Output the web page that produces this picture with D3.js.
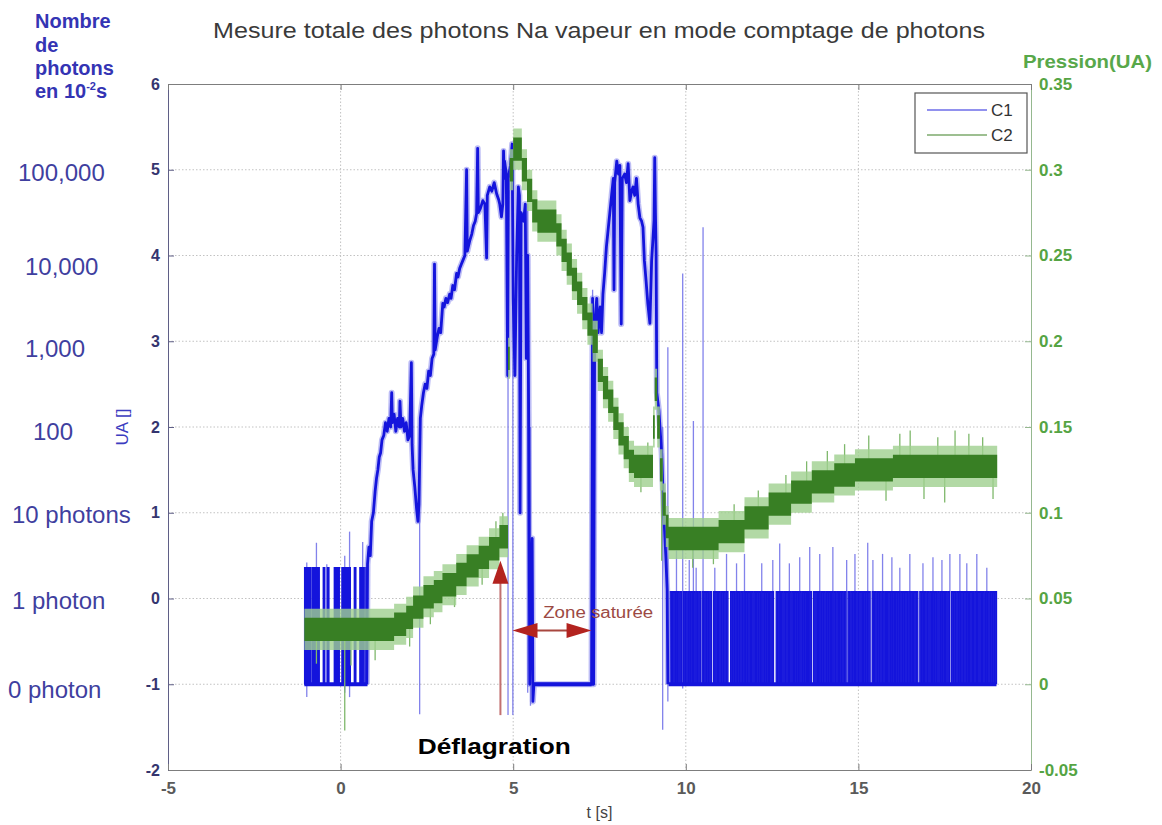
<!DOCTYPE html>
<html><head><meta charset="utf-8">
<script src="https://cdn.jsdelivr.net/npm/d3@7"></script>
<style>
body{margin:0;background:#fff}
svg{display:block}
text{font-family:"Liberation Sans",Arial,Helvetica,sans-serif}
</style>
</head><body>
<svg id="c" width="1162" height="825"></svg>
<script>
// ---------------- DATA ----------------
const chartTitle = "Mesure totale des photons Na vapeur en mode comptage de photons";
const tTicks = [-5, 0, 5, 10, 15, 20];
const uaTicks = [-2, -1, 0, 1, 2, 3, 4, 5, 6];
const pTicks = [-0.05, 0, 0.05, 0.1, 0.15, 0.2, 0.25, 0.3, 0.35];
const gridT = [0, 5, 10, 15];
const gridUA = [-1, 0, 1, 2, 3, 4, 5];
const photonLabels = ["100,000", "10,000", "1,000", "100", "10 photons", "1 photon", "0 photon"];
const photonLevels = [5, 4, 3, 2, 1, 0, -1];
const seriesNames = ["C1", "C2"];

// C1 : photon counting parts (pulse start times, s) and levels
const c1PreHigh = 0.36;
const c1PostHigh = 0.08;
const c1PulseWidth = 0.04;
const c1PrePulses = [-1.04, -0.99, -0.95, -0.91, -0.82, -0.77, -0.72, -0.66, -0.5, -0.38, -0.18, -0.13, -0.08,
  0.04, 0.09, 0.14, 0.19, 0.24, 0.4, 0.56, 0.61, 0.66, 0.71];
const c1PostPulses = [9.55, 9.62, 9.7, 9.76, 9.84, 9.93, 10.0, 10.08, 10.15, 10.22, 10.3, 10.38, 10.47, 10.55, 10.62,
  10.7, 10.8, 10.88, 10.95, 11.03, 11.1, 11.18, 11.3, 11.37, 11.45, 11.52, 11.6, 11.68, 11.75, 11.83, 11.9, 11.98,
  12.05, 12.12, 12.2, 12.28, 12.35, 12.42, 12.5, 12.62, 12.7, 12.77, 12.85, 12.93, 13.0, 13.08, 13.15, 13.22, 13.3,
  13.38, 13.45, 13.52, 13.6, 13.7, 13.78, 13.85, 13.93, 14.0, 14.08, 14.15, 14.22, 14.3, 14.38, 14.45, 14.52, 14.6,
  14.7, 14.78, 14.85, 14.92, 15.0, 15.08, 15.15, 15.22, 15.3, 15.4, 15.47, 15.55, 15.62, 15.7, 15.78, 15.85, 15.93,
  16.0, 16.08, 16.15, 16.23, 16.3, 16.38, 16.46, 16.53, 16.6, 16.68, 16.78, 16.85, 16.92, 17.0, 17.08, 17.15, 17.22,
  17.3, 17.38, 17.45, 17.52, 17.6, 17.7, 17.77, 17.85, 17.92, 18.0, 18.08, 18.15, 18.22, 18.3, 18.38, 18.45, 18.53,
  18.6, 18.68, 18.75, 18.83, 18.9, 18.96];
// C1 : analog (saturating) parts [t, UA]
const c1Rise = [[0.76,-1],[0.78,0.4],[0.82,0.6],[0.86,0.5],[0.9,0.9],[0.95,1.0],[1.0,1.25],[1.04,1.4],[1.08,1.5],
  [1.12,1.65],[1.16,1.7],[1.2,1.85],[1.25,1.9],[1.3,2.05],[1.35,1.95],[1.4,2.1],[1.45,2.0],[1.48,2.4],[1.5,2.05],
  [1.55,2.15],[1.6,1.95],[1.65,2.1],[1.7,2.0],[1.72,2.3],[1.75,2.0],[1.8,2.1],[1.85,1.95],[1.9,2.05],[1.95,1.85],
  [2.0,1.9],[2.05,2.75],[2.07,1.8],[2.1,1.5],[2.15,1.3],[2.2,1.05],[2.24,0.9],[2.27,1.1],[2.31,2.1],[2.35,2.25],
  [2.4,2.4],[2.45,2.5],[2.5,2.45],[2.55,2.65],[2.6,2.6],[2.65,2.8],[2.7,2.85],[2.72,3.9],[2.74,2.9],[2.8,3.05],
  [2.85,3.15],[2.9,3.1],[2.96,3.44],[3.0,3.4],[3.05,3.5],[3.1,3.45],[3.16,3.55],[3.2,3.5],[3.25,3.65],[3.3,3.6],
  [3.36,3.79],[3.4,3.75],[3.45,3.85],[3.5,3.9],[3.54,3.94],[3.6,4.0],[3.65,5.0],[3.67,4.05],[3.74,4.17],[3.8,4.25],
  [3.85,4.35],[3.9,4.4],[3.94,4.49],[3.97,5.25],[3.99,4.5],[4.05,4.55],[4.12,4.64],[4.18,4.6],[4.23,3.97],[4.25,4.7],
  [4.32,4.8],[4.38,4.75],[4.45,4.85],[4.52,4.72],[4.58,4.65],[4.61,4.6],[4.66,4.45],[4.7,4.6],[4.72,5.22],[4.74,4.9],
  [4.75,5.1],[4.8,4.95],[4.84,2.6],[4.86,4.9],[4.92,5.05],[4.97,5.3],[5.0,3.5],[5.05,2.6],[5.1,4.0],[5.15,4.8],
  [5.18,4.7],[5.2,1.0],[5.23,4.5],[5.3,4.4],[5.35,4.6],[5.38,2.8],[5.42,4.0],[5.45,2.0],[5.48,-1.0],[5.52,0.4],
  [5.55,0.7],[5.57,-1.2],[5.6,-1]];
const c1Hump = [[7.27,-1],[7.3,3.5],[7.33,-1],[7.36,3.2],[7.42,3.5],[7.46,3.1],[7.52,3.4],[7.56,3.1],[7.6,3.55],
  [7.65,3.8],[7.7,4.1],[7.75,4.3],[7.8,4.5],[7.85,4.7],[7.9,4.9],[7.92,3.6],[7.94,4.85],[8.0,5.1],[8.05,4.95],
  [8.09,5.05],[8.13,3.2],[8.16,4.9],[8.23,4.95],[8.28,4.85],[8.33,5.07],[8.38,4.64],[8.43,4.75],[8.47,4.8],
  [8.52,4.7],[8.57,4.9],[8.62,4.6],[8.67,4.44],[8.72,4.4],[8.76,4.33],[8.8,3.94],[8.85,3.7],[8.9,3.44],[8.96,3.21],
  [9.01,3.94],[9.05,4.2],[9.08,4.41],[9.1,5.14],[9.12,4.5],[9.14,4.02],[9.16,2.4],[9.22,2.2],[9.3,1.7],[9.36,1.0],
  [9.42,0.5],[9.46,0.1],[9.48,-1.0]];
// C1 : noise floor segments at the "0 photon" level [tStart, tEnd]
const c1Floors = [[-1.05, 0.78], [5.58, 7.27], [9.5, 19.0]];
// C1 : isolated spikes [t, bottom, top]
const c1Spikes = [[-0.98,-1.15,0.42],[-0.7,-1,0.65],[-0.4,-1,0.4],[0.12,-1.1,0.5],[0.26,-1.15,0.78],[0.64,-1,0.66],
  [2.29,-1.35,2.1],[4.85,-1.36,5.0],[4.99,-1.36,5.3],[5.42,-1.1,4.6],[5.5,-1.25,2.0],[7.3,-1.0,3.6],[9.33,-1.53,2.0],
  [9.48,-1.2,2.93],[9.91,-1.05,3.79],[10.22,-1.0,2.07],[10.5,-1.0,4.33],
  [9.73,-1,0.56],[10.1,-1,0.45],[10.3,-1,0.36],[10.84,-1,0.36],[11.18,-1,0.52],[11.47,-1,0.41],[11.7,-1,0.52],
  [12.2,-1,0.41],[12.52,-1,0.45],[12.72,-1,0.64],[13.0,-1,0.41],[13.3,-1,0.48],[13.59,-1,0.6],[13.88,-1,0.52],
  [14.26,-1,0.6],[14.66,-1,0.45],[14.9,-1,0.52],[15.27,-1,0.65],[15.42,-1,0.45],[15.7,-1,0.52],[15.97,-1,0.48],
  [16.2,-1,0.36],[16.49,-1,0.52],[16.87,-1,0.41],[17.16,-1,0.48],[17.42,-1,0.45],[17.65,-1,0.52],[17.94,-1,0.52],
  [18.14,-1,0.41],[18.43,-1,0.52],[18.72,-1,0.36]];

// C2 : pressure, stepped [t, Pression(UA)]
const c2 = [[-1.05,0.032],[1.55,0.035],[1.9,0.039],[2.1,0.045],[2.4,0.051],[2.7,0.054],[2.95,0.058],[3.35,0.064],
  [3.65,0.069],[4.0,0.074],[4.3,0.079],[4.6,0.086],[4.85,0.19],[4.9,0.3],[5.0,0.312],[5.25,0.3],[5.4,0.288],
  [5.55,0.276],[5.7,0.27],[6.25,0.262],[6.4,0.253],[6.55,0.245],[6.7,0.236],[6.85,0.228],[7.0,0.219],[7.15,0.21],
  [7.3,0.2],[7.45,0.183],[7.6,0.173],[7.75,0.165],[7.9,0.155],[8.05,0.146],[8.2,0.138],[8.35,0.13],[8.5,0.127],
  [9.05,0.15],[9.1,0.172],[9.17,0.15],[9.25,0.125],[9.33,0.105],[9.42,0.092],[9.5,0.085],[10.95,0.089],[11.7,0.097],
  [12.4,0.105],[13.05,0.112],[13.65,0.118],[14.3,0.122],[14.9,0.125],[16.0,0.127],[19.02,0.127]];
const c2NoiseCore = 0.0068;
const c2NoiseFull = 0.012;
const c2Spikes = [[0.12,-0.027],[-0.7,0.012],[0.3,0.011],[1.0,0.014],[2.0,0.022],[2.6,0.035],[3.3,0.045],[4.1,0.058],
  [4.5,0.095],[4.7,0.1],[8.7,0.112],[8.9,0.141],[9.3,0.072],[10.2,0.068],[10.8,0.07],[11.4,0.105],[12.1,0.113],
  [12.9,0.122],[13.5,0.13],[14.1,0.136],[14.6,0.14],[15.3,0.145],[15.8,0.107],[16.2,0.146],[16.5,0.148],[16.9,0.108],
  [17.3,0.144],[17.5,0.106],[17.8,0.148],[18.2,0.146],[18.6,0.144],[18.9,0.108]];

// Annotations (data coordinates)
const deflagration = {label: "Déflagration", t: 4.63, from: -1.36, to: 0.44, textT: 4.45, textV: -1.81};
const zoneSaturee = {label: "Zone saturée", t0: 4.98, t1: 7.27, v: -0.373, textT: 5.87, textV: -0.233};

// ---------------- DRAWING ----------------
const svg = d3.select("#c");
const L = 168, R = 1031, T = 84, B = 770;
const x = d3.scaleLinear().domain([-5, 20]).range([L, R]);
const yL = d3.scaleLinear().domain([-2, 6]).range([B, T]);
const yR = d3.scaleLinear().domain([-0.05, 0.35]).range([B, T]);
const fmt = d => String(+d.toFixed(2));

const blue = "#1414dc", blueLight = "#6d6de8", green = "#387f24", greenLight = "#9fcf8f";

svg.append("rect").attr("width", 1162).attr("height", 825).attr("fill", "#fff");

// grid
const grid = svg.append("g");
grid.selectAll(".gv").data(gridT).join("line")
  .attr("x1", d => x(d)).attr("x2", d => x(d)).attr("y1", T).attr("y2", B)
  .attr("stroke", "#c2c2c2").attr("stroke-width", 1).attr("stroke-dasharray", "1.5,2");
grid.selectAll(".gh").data(gridUA).join("line")
  .attr("x1", L).attr("x2", R).attr("y1", d => yL(d)).attr("y2", d => yL(d))
  .attr("stroke", "#c2c2c2").attr("stroke-width", 1).attr("stroke-dasharray", "1.5,2");

svg.append("clipPath").attr("id", "clip").append("rect")
  .attr("x", L).attr("y", T).attr("width", R - L).attr("height", B - T);
const plot = svg.append("g").attr("clip-path", "url(#clip)");

const lineL = d3.line().x(d => x(d[0])).y(d => yL(d[1]));

// C1 light spikes
plot.append("g").selectAll("line").data(c1Spikes).join("line")
  .attr("x1", d => x(d[0])).attr("x2", d => x(d[0]))
  .attr("y1", d => yL(d[1])).attr("y2", d => yL(d[2]))
  .attr("stroke", blueLight).attr("stroke-width", 1.3).attr("opacity", 0.85);

// C1 counting pulses
function pulses(times, high) {
  const pts = [[times[0] - 0.01, -1]];
  times.forEach(t => pts.push([t, -1], [t, high], [t + c1PulseWidth, high], [t + c1PulseWidth, -1]));
  return pts;
}
plot.append("path").attr("d", lineL(pulses(c1PrePulses, c1PreHigh)))
  .attr("fill", "none").attr("stroke", blue).attr("stroke-width", 1.5);
plot.append("path").attr("d", lineL(pulses(c1PostPulses, c1PostHigh).concat([[19.0, -1]])))
  .attr("fill", "none").attr("stroke", blue).attr("stroke-width", 1.35);

// C1 analog trace
plot.append("path").attr("d", lineL(c1Rise.concat(c1Hump)))
  .attr("fill", "none").attr("stroke", blueLight).attr("stroke-width", 6).attr("opacity", 0.45)
  .attr("stroke-linejoin", "round");
plot.append("path").attr("d", lineL(c1Rise.concat(c1Hump)))
  .attr("fill", "none").attr("stroke", blue).attr("stroke-width", 2.8).attr("stroke-linejoin", "round");

// C1 floors
plot.append("g").selectAll("line").data(c1Floors).join("line")
  .attr("x1", d => x(d[0])).attr("x2", d => x(d[1])).attr("y1", yL(-1)).attr("y2", yL(-1))
  .attr("stroke", blue).attr("stroke-width", 4);

// C2 pressure band
const bisect = d3.bisector(d => d[0]).right;
const c2At = t => c2[Math.max(0, bisect(c2, t) - 1)][1];
plot.append("g").selectAll("line").data(c2Spikes).join("line")
  .attr("x1", d => x(d[0])).attr("x2", d => x(d[0]))
  .attr("y1", d => yR(c2At(d[0]))).attr("y2", d => yR(d[1]))
  .attr("stroke", "#7fb86c").attr("stroke-width", 1.3);
const areaFull = d3.area().curve(d3.curveStepAfter).x(d => x(d[0]))
  .y0(d => yR(d[1] - c2NoiseFull)).y1(d => yR(d[1] + c2NoiseFull));
const areaCore = d3.area().curve(d3.curveStepAfter).x(d => x(d[0]))
  .y0(d => yR(d[1] - c2NoiseCore)).y1(d => yR(d[1] + c2NoiseCore));
plot.append("path").attr("d", areaFull(c2)).attr("fill", greenLight).attr("opacity", 0.8);
plot.append("path").attr("d", areaCore(c2)).attr("fill", green);

// Axes
const axL = svg.append("g").attr("transform", `translate(${L},0)`)
  .call(d3.axisLeft(yL).tickValues(uaTicks).tickFormat(fmt).tickSizeInner(-6).tickSizeOuter(0).tickPadding(8));
axL.select(".domain").attr("stroke", "#5f5f86");
axL.selectAll(".tick line").attr("stroke", "#5f5f86");
axL.selectAll("text").attr("font-size", 16).attr("font-weight", "bold").attr("fill", "#35356f")
  .attr("font-family", "Liberation Sans, Arial, sans-serif");

const axR = svg.append("g").attr("transform", `translate(${R},0)`)
  .call(d3.axisRight(yR).tickValues(pTicks).tickFormat(fmt).tickSizeInner(-6).tickSizeOuter(0).tickPadding(8));
axR.select(".domain").attr("stroke", "#95b88f");
axR.selectAll(".tick line").attr("stroke", "#95b88f");
axR.selectAll("text").attr("font-size", 17).attr("font-weight", "bold").attr("fill", "#55a443")
  .attr("font-family", "Liberation Sans, Arial, sans-serif");

const axB = svg.append("g").attr("transform", `translate(0,${B})`)
  .call(d3.axisBottom(x).tickValues(tTicks).tickFormat(fmt).tickSizeInner(-6).tickSizeOuter(0).tickPadding(12));
axB.select(".domain").attr("stroke", "#7d7d7d");
axB.selectAll(".tick line").attr("stroke", "#7d7d7d");
axB.selectAll("text").attr("font-size", 17).attr("font-weight", "bold").attr("fill", "#5a5a5a")
  .attr("font-family", "Liberation Sans, Arial, sans-serif");

const axT = svg.append("g").attr("transform", `translate(0,${T})`)
  .call(d3.axisTop(x).tickValues(tTicks).tickFormat("").tickSizeInner(-6).tickSizeOuter(0));
axT.select(".domain").attr("stroke", "#7d7d7d");
axT.selectAll(".tick line").attr("stroke", "#7d7d7d");

// Title and axis labels
svg.append("text").attr("x", (213 + 985) / 2).attr("y", 38).attr("text-anchor", "middle")
  .attr("font-size", 22).attr("fill", "#3a3a3a").attr("textLength", 772).attr("lengthAdjust", "spacingAndGlyphs")
  .text(chartTitle);
svg.append("text").attr("x", (x(5) + x(10)) / 2).attr("y", 818).attr("text-anchor", "middle")
  .attr("font-size", 16).attr("fill", "#444").text("t [s]");
svg.append("text").attr("transform", `translate(128,${yL(2)}) rotate(-90)`).attr("text-anchor", "middle")
  .attr("font-size", 17).attr("fill", "#3c3cc0").text("UA []");
svg.append("text").attr("x", 1023).attr("y", 68).attr("font-size", 19).attr("font-weight", "bold")
  .attr("fill", "#58a84a").attr("textLength", 129).attr("lengthAdjust", "spacingAndGlyphs").text("Pression(UA)");

// Left descriptive block
const nb = svg.append("g").attr("font-size", 20).attr("font-weight", "bold").attr("fill", "#3434b4");
[["Nombre", 28], ["de", 52], ["photons", 75]].forEach(([s, yy]) =>
  nb.append("text").attr("x", 35).attr("y", yy).text(s));
const en = nb.append("text").attr("x", 35).attr("y", 98);
en.append("tspan").text("en 10");
en.append("tspan").attr("font-size", 11).attr("dy", -8).text("-2");
en.append("tspan").attr("dy", 8).text("s");

const labelDx = [18, 25, 25, 33, 12, 12, 8];
const labelDy = [11, 19, 16, 13, 10, 10, 14];
svg.append("g").selectAll("text").data(photonLabels).join("text")
  .attr("x", (d, i) => labelDx[i]).attr("y", (d, i) => yL(photonLevels[i]) + labelDy[i])
  .attr("font-size", 24).attr("fill", "#3f3f9f").text(d => d);

// Legend
const lg = svg.append("g");
lg.append("rect").attr("x", 915).attr("y", 93).attr("width", 112).attr("height", 60)
  .attr("fill", "#fff").attr("stroke", "#555").attr("stroke-width", 1.2);
[[blueLight, 110], ["#7caa6c", 135]].forEach(([c, yy], i) => {
  lg.append("line").attr("x1", 927).attr("x2", 987).attr("y1", yy).attr("y2", yy).attr("stroke", c).attr("stroke-width", 1.3);
  lg.append("text").attr("x", 991).attr("y", yy + 6).attr("font-size", 17).attr("fill", "#333").text(seriesNames[i]);
});

// Annotations
const ann = svg.append("g");
const ax0 = x(deflagration.t), yTop = yL(deflagration.to);
ann.append("line").attr("x1", ax0).attr("x2", ax0).attr("y1", yL(deflagration.from)).attr("y2", yTop + 20)
  .attr("stroke", "#c27070").attr("stroke-width", 2);
ann.append("path").attr("d", `M${ax0},${yTop} L${ax0 - 8},${yTop + 23} L${ax0 + 8},${yTop + 23} Z`).attr("fill", "#b3231f");
ann.append("text").attr("x", x(deflagration.textT)).attr("y", yL(deflagration.textV)).attr("text-anchor", "middle")
  .attr("font-size", 22).attr("font-weight", "bold").attr("fill", "#000")
  .attr("textLength", 153).attr("lengthAdjust", "spacingAndGlyphs").text(deflagration.label);

const zx0 = x(zoneSaturee.t0), zx1 = x(zoneSaturee.t1), zy = yL(zoneSaturee.v);
ann.append("line").attr("x1", zx0 + 10).attr("x2", zx1 - 10).attr("y1", zy).attr("y2", zy)
  .attr("stroke", "#a8473f").attr("stroke-width", 2);
ann.append("path").attr("d", `M${zx0},${zy} L${zx0 + 25},${zy - 7.5} L${zx0 + 25},${zy + 7.5} Z`).attr("fill", "#b3231f");
ann.append("path").attr("d", `M${zx1},${zy} L${zx1 - 25},${zy - 7.5} L${zx1 - 25},${zy + 7.5} Z`).attr("fill", "#b3231f");
ann.append("text").attr("x", x(zoneSaturee.textT)).attr("y", yL(zoneSaturee.textV))
  .attr("font-size", 16).attr("fill", "#9c4a44").attr("textLength", 110).attr("lengthAdjust", "spacingAndGlyphs")
  .text(zoneSaturee.label);
</script>
</body></html>
